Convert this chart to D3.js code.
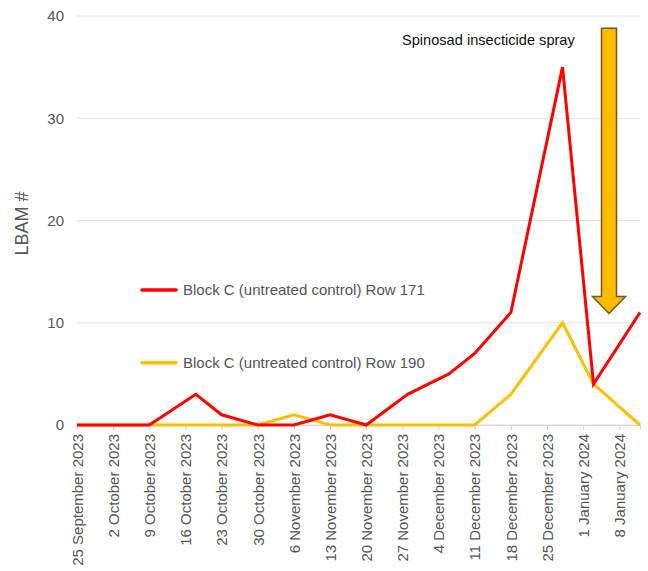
<!DOCTYPE html>
<html>
<head>
<meta charset="utf-8">
<script src="https://cdn.jsdelivr.net/npm/d3@7"></script>
<style>
  html, body { margin: 0; padding: 0; background: #fff; }
  svg { display: block; font-family: "Liberation Sans", Arial, Helvetica, sans-serif; }
</style>
</head>
<body>
<svg id="chart" width="648" height="571"></svg>
<script>
// ---- data ----
const sampleDates = ["2023-09-25","2023-10-02","2023-10-09","2023-10-18","2023-10-23","2023-10-30","2023-11-06","2023-11-13","2023-11-20","2023-11-28","2023-12-06","2023-12-11","2023-12-18","2023-12-28","2024-01-03","2024-01-12"];
const row171 = [0,0,0,3,1,0,0,1,0,3,5,7,11,35,4,11];
const row190 = [0,0,0,0,0,0,1,0,0,0,0,0,3,10,4,0];
const seriesNames = ["Block C (untreated control) Row 171", "Block C (untreated control) Row 190"];
const seriesColors = ["#ff0000", "#ffbf00"];
const xTickDates = ["2023-09-25","2023-10-02","2023-10-09","2023-10-16","2023-10-23","2023-10-30","2023-11-06","2023-11-13","2023-11-20","2023-11-27","2023-12-04","2023-12-11","2023-12-18","2023-12-25","2024-01-01","2024-01-08"];
const yTicks = [0, 10, 20, 30, 40];
const yLabel = "LBAM #";
const annotationText = "Spinosad insecticide spray";
const arrowDate = "2024-01-06";
const arrowFrom = 38.8, arrowTo = 10.9;

// ---- layout ----
const W = 648, H = 571;
const margin = { left: 77, right: 8, top: 16, bottom: 146 };
const parse = d3.utcParse("%Y-%m-%d");
const svg = d3.select("#chart");

const x = d3.scaleUtc()
  .domain([parse(sampleDates[0]), parse(sampleDates[sampleDates.length - 1])])
  .range([margin.left, W - margin.right]);
const y = d3.scaleLinear().domain([0, 40]).range([H - margin.bottom, margin.top]);

// gridlines
svg.append("g").selectAll("line").data(yTicks).join("line")
  .attr("x1", margin.left).attr("x2", W - margin.right)
  .attr("y1", d => y(d)).attr("y2", d => y(d))
  .attr("stroke", "#e2e2e2").attr("stroke-width", 1);

// y axis labels
const yAxis = d3.axisLeft(y).tickValues(yTicks).tickSize(0).tickPadding(13);
const gy = svg.append("g").attr("transform", `translate(${margin.left},0)`).call(yAxis);
gy.select(".domain").remove();
gy.selectAll("text").attr("font-size", 15).attr("fill", "#555")
  .attr("font-family", "Liberation Sans, Arial, sans-serif");

// x axis
const fmt = d3.utcFormat("%-d %B %Y");
const xAxis = d3.axisBottom(x).tickValues(xTickDates.map(parse)).tickFormat(fmt).tickSize(5).tickPadding(4);
const gx = svg.append("g").attr("transform", `translate(0,${y(0)})`).call(xAxis);
gx.select(".domain").attr("stroke", "#d6d6d6");
gx.selectAll(".tick line").attr("stroke", "#d0d0d0");
gx.selectAll("text")
  .attr("font-size", 15).attr("fill", "#555")
  .attr("font-family", "Liberation Sans, Arial, sans-serif")
  .attr("text-anchor", "end")
  .attr("dy", "0.35em")
  .attr("transform", "translate(0,0) rotate(-90)")
  .attr("x", -9).attr("y", 0);

// y label
svg.append("text")
  .attr("transform", `translate(28,${(y(0) + y(40)) / 2 + 3}) rotate(-90)`)
  .attr("text-anchor", "middle")
  .attr("font-size", 18).attr("fill", "#555")
  .text(yLabel);

// lines
const line = d3.line().x(d => x(d.date)).y(d => y(d.v));
[row171, row190].slice().reverse().forEach((vals, ri) => {
  const i = 1 - ri;
  const data = sampleDates.map((d, k) => ({ date: parse(d), v: vals[k] }));
  svg.append("path").datum(data)
    .attr("fill", "none").attr("stroke", seriesColors[i]).attr("stroke-width", 3)
    .attr("d", line);
});

// legend
const legendY = [y(13.2), y(6.1)];
seriesNames.forEach((name, i) => {
  svg.append("line").attr("x1", 142).attr("x2", 176)
    .attr("y1", legendY[i]).attr("y2", legendY[i])
    .attr("stroke", seriesColors[i]).attr("stroke-width", 3.5).attr("stroke-linecap", "round");
  svg.append("text").attr("x", 183).attr("y", legendY[i]).attr("dy", "0.35em")
    .attr("font-size", 15).attr("fill", "#555").text(name);
});

// annotation text
svg.append("text").attr("x", 402).attr("y", y(37.7)).attr("dy", "0.35em")
  .attr("font-size", 14.6).attr("fill", "#111").text(annotationText);

// arrow
const ax = x(parse(arrowDate));
const yTop = y(arrowFrom), yTip = y(arrowTo);
const shaftHalf = 7.5, headHalf = 16.5, headLen = 17;
const arrowPts = [
  [ax - shaftHalf, yTop], [ax + shaftHalf, yTop], [ax + shaftHalf, yTip - headLen],
  [ax + headHalf, yTip - headLen], [ax, yTip], [ax - headHalf, yTip - headLen],
  [ax - shaftHalf, yTip - headLen]
];
svg.append("path")
  .attr("d", d3.line()(arrowPts) + "Z")
  .attr("fill", "#ffbb00").attr("stroke", "#6e5a12").attr("stroke-width", 1.5)
  .attr("stroke-linejoin", "miter");
</script>
</body>
</html>
